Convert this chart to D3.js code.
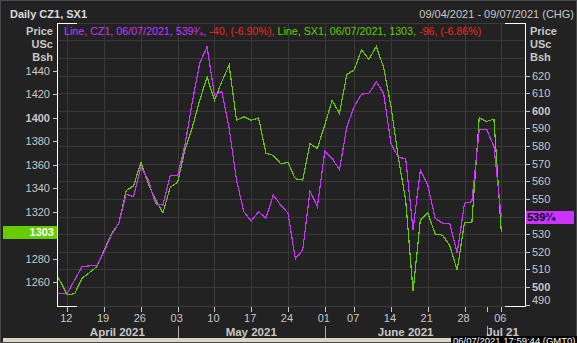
<!DOCTYPE html>
<html>
<head>
<meta charset="utf-8">
<script src="https://cdn.jsdelivr.net/npm/d3@7/dist/d3.min.js"></script>
<style>
body { margin: 0; background: #222; }
svg { display: block; font-family: "Liberation Sans", Arial, sans-serif; }
</style>
</head>
<body>
<script>
var bg_color = '#222222';
var grid_color = '#393939';
var text_color = '#c8c8c8';
var cz_color = '#cc33ff';
var sx_color = '#66cc00';
var red_color = '#ff2020';

var width = 577, height = 343;
var plot_left = 57, plot_right = 525, plot_top = 23, plot_bottom = 306;

// trading days shown (first one is clipped by the left axis)
var dates = ['2021-04-08','2021-04-09',
	'2021-04-12','2021-04-13','2021-04-14','2021-04-15','2021-04-16',
	'2021-04-19','2021-04-20','2021-04-21','2021-04-22','2021-04-23',
	'2021-04-26','2021-04-27','2021-04-28','2021-04-29','2021-04-30',
	'2021-05-03','2021-05-04','2021-05-05','2021-05-06','2021-05-07',
	'2021-05-10','2021-05-11','2021-05-12','2021-05-13','2021-05-14',
	'2021-05-17','2021-05-18','2021-05-19','2021-05-20','2021-05-21',
	'2021-05-24','2021-05-25','2021-05-26','2021-05-27','2021-05-28',
	'2021-06-01','2021-06-02','2021-06-03','2021-06-04',
	'2021-06-07','2021-06-08','2021-06-09','2021-06-10','2021-06-11',
	'2021-06-14','2021-06-15','2021-06-16','2021-06-17','2021-06-18',
	'2021-06-21','2021-06-22','2021-06-23','2021-06-24','2021-06-25',
	'2021-06-28','2021-06-29','2021-06-30','2021-07-01','2021-07-02',
	'2021-07-06'];

// CZ1 corn, USc/Bsh (right axis)
var cz1 = [496.5, 496.5,
	496.5, 504, 511.5, 512, 512.25,
	520, 529.5, 536.25, 552.75, 551.25,
	568.25, 560.75, 547.25, 546.5, 563.25,
	563.25, 580.75, 605.25, 627, 636.5,
	609, 611, 590, 560.75, 542.75,
	537.5, 542.75, 539, 552.25, 546.5,
	542, 516, 521, 554.5, 545.5,
	577, 573, 566.5, 591,
	602.5, 609.5, 610, 616.5, 610,
	581.5, 573.5, 573, 532.5, 566.5,
	558, 539, 536.25, 535.75, 519.5,
	547.5, 548.5, 589.25, 589.5, 579.75,
	539.75];

// SX1 soybeans, USc/Bsh (left axis)
var sx1 = [1271, 1261,
	1249, 1250, 1263, 1268, 1273,
	1287, 1301, 1310, 1338, 1342,
	1362, 1344, 1330, 1319, 1341,
	1345, 1373, 1392, 1415, 1435,
	1415, 1431, 1445, 1398, 1401,
	1398, 1400, 1370, 1368, 1361,
	1362, 1348, 1347, 1378, 1374,
	1394, 1415, 1404, 1437,
	1441, 1458, 1450, 1461, 1443,
	1410, 1366, 1330, 1252, 1313,
	1319, 1301, 1300, 1291, 1270,
	1311, 1311, 1400, 1397, 1399,
	1303];

var week_ticks = ['2021-04-12','2021-04-19','2021-04-26','2021-05-03','2021-05-10','2021-05-17','2021-05-24',
	'2021-06-01','2021-06-07','2021-06-14','2021-06-21','2021-06-28','2021-07-06'];
var week_labels = ['12','19','26','03','10','17','24','01','07','14','21','28','06'];
var months = ['April 2021', 'May 2021', 'June 2021', 'Jul 21'];
var month_starts = ['2021-05-03', '2021-06-01', '2021-07-01'];

var sx_ticks = [1260, 1280, 1300, 1320, 1340, 1360, 1380, 1400, 1420, 1440];
var cz_ticks = [490, 500, 510, 520, 530, 540, 550, 560, 570, 580, 590, 600, 610, 620];
var cz_grid = [500, 510, 520, 530, 540, 550, 560, 570, 580, 590, 600, 610, 620, 630, 640];

var last_cz = '539³⁄₄';
var last_sx = '1303';

var x = d3.scalePoint().domain(dates).range([52.6, 501.3]);
var y_sx = d3.scaleLinear().domain([1239.5, 1481]).range([plot_bottom, plot_top]);
var y_cz = d3.scaleLinear().domain([489.2, 649.9]).range([plot_bottom, plot_top]);

var svg = d3.select("body").append("svg")
	.attr("width", width)
	.attr("height", height);

function draw_frame() {
	svg.append("rect")
		.attr("x", 0).attr("y", 0)
		.attr("width", width).attr("height", height)
		.style("fill", bg_color);
	svg.append("rect")
		.attr("x", 0.5).attr("y", 0.5)
		.attr("width", width - 1).attr("height", height - 1)
		.style("fill", "none")
		.style("stroke", "#4a4a4a");

	svg.append("text")
		.attr("x", 10).attr("y", 18)
		.attr("font-size", "11px")
		.attr("font-weight", "bold")
		.attr("fill", "#dcdcdc")
		.text("Daily CZ1, SX1");
	svg.append("text")
		.attr("x", 574).attr("y", 18)
		.attr("text-anchor", "end")
		.attr("font-size", "11px")
		.attr("fill", text_color)
		.text("09/04/2021 - 09/07/2021 (CHG)");

	var units = ["Price", "USc", "Bsh"];
	svg.selectAll(".unit_left")
		.data(units)
		.enter()
		.append("text")
		.attr("class", "unit_left")
		.attr("x", 53)
		.attr("y", function(d, i) { return 35 + i * 13 })
		.attr("text-anchor", "end")
		.attr("font-size", "11px")
		.attr("font-weight", "bold")
		.attr("fill", text_color)
		.text(function(d) { return d });
	svg.selectAll(".unit_right")
		.data(units)
		.enter()
		.append("text")
		.attr("class", "unit_right")
		.attr("x", 530)
		.attr("y", function(d, i) { return 35 + i * 13 })
		.attr("font-size", "11px")
		.attr("font-weight", "bold")
		.attr("fill", text_color)
		.text(function(d) { return d });
}

function draw_grid() {
	svg.selectAll(".hgrid")
		.data(cz_grid)
		.enter()
		.append("line")
		.attr("class", "hgrid")
		.attr("x1", plot_left).attr("x2", plot_right)
		.attr("y1", function(d) { return Math.round(y_cz(d)) + 0.5 })
		.attr("y2", function(d) { return Math.round(y_cz(d)) + 0.5 })
		.style("stroke", grid_color);

	svg.selectAll(".vgrid")
		.data(week_ticks)
		.enter()
		.append("line")
		.attr("class", "vgrid")
		.attr("x1", function(d) { return Math.round(x(d)) + 0.5 })
		.attr("x2", function(d) { return Math.round(x(d)) + 0.5 })
		.attr("y1", plot_top).attr("y2", plot_bottom)
		.style("stroke", grid_color);

	// top / bottom border, gray with white corners
	[plot_top, plot_bottom].forEach(function(yy) {
		svg.append("line")
			.attr("x1", plot_left).attr("x2", plot_right)
			.attr("y1", yy + 0.5).attr("y2", yy + 0.5)
			.style("stroke", grid_color);
		svg.append("line")
			.attr("x1", plot_left).attr("x2", plot_left + 20)
			.attr("y1", yy + 0.5).attr("y2", yy + 0.5)
			.style("stroke", "#fff");
		svg.append("line")
			.attr("x1", plot_right - 20).attr("x2", plot_right)
			.attr("y1", yy + 0.5).attr("y2", yy + 0.5)
			.style("stroke", "#fff");
	});
	svg.append("line")
		.attr("x1", plot_left + 0.5).attr("x2", plot_left + 0.5)
		.attr("y1", plot_top).attr("y2", plot_bottom + 1)
		.style("stroke", "#fff");
	svg.append("line")
		.attr("x1", plot_right + 0.5).attr("x2", plot_right + 0.5)
		.attr("y1", plot_top).attr("y2", plot_bottom + 1)
		.style("stroke", "#fff");
}

function draw_axes() {
	var sx_last = sx1[sx1.length - 1];
	var cz_last = cz1[cz1.length - 1];

	// left axis (SX1)
	svg.selectAll(".sx_tick")
		.data(sx_ticks)
		.enter()
		.append("line")
		.attr("class", "sx_tick")
		.attr("x1", 53).attr("x2", plot_left)
		.attr("y1", function(d) { return Math.round(y_sx(d)) + 0.5 })
		.attr("y2", function(d) { return Math.round(y_sx(d)) + 0.5 })
		.style("stroke", text_color);
	// labels hidden under the last-value box are left out
	svg.selectAll(".sx_label")
		.data(sx_ticks.filter(function(d) { return Math.abs(y_sx(d) - y_sx(sx_last)) > 10 }))
		.enter()
		.append("text")
		.attr("class", "sx_label")
		.attr("x", 50)
		.attr("y", function(d) { return y_sx(d) + 4 })
		.attr("text-anchor", "end")
		.attr("font-size", "11px")
		.attr("font-weight", function(d) { return d % 100 == 0 ? "bold" : "normal" })
		.attr("fill", text_color)
		.text(function(d) { return d });

	// right axis (CZ1)
	svg.selectAll(".cz_tick")
		.data(cz_ticks)
		.enter()
		.append("line")
		.attr("class", "cz_tick")
		.attr("x1", plot_right).attr("x2", plot_right + 5)
		.attr("y1", function(d) { return Math.round(y_cz(d)) + 0.5 })
		.attr("y2", function(d) { return Math.round(y_cz(d)) + 0.5 })
		.style("stroke", text_color);
	svg.selectAll(".cz_label")
		.data(cz_ticks.filter(function(d) { return Math.abs(y_cz(d) - y_cz(cz_last)) > 10 }))
		.enter()
		.append("text")
		.attr("class", "cz_label")
		.attr("x", 532)
		.attr("y", function(d) { return y_cz(d) + 4 - (d == 490 ? 5 : 0) })
		.attr("font-size", "11px")
		.attr("font-weight", function(d) { return d % 100 == 0 ? "bold" : "normal" })
		.attr("fill", text_color)
		.text(function(d) { return d });

	// bottom axis
	svg.selectAll(".x_tick")
		.data(week_ticks.concat(['2021-07-01']))
		.enter()
		.append("line")
		.attr("class", "x_tick")
		.attr("x1", function(d) { return Math.round(x(d)) + 0.5 })
		.attr("x2", function(d) { return Math.round(x(d)) + 0.5 })
		.attr("y1", plot_bottom + 1).attr("y2", plot_bottom + 6)
		.style("stroke", text_color);
	svg.selectAll(".x_label")
		.data(week_ticks)
		.enter()
		.append("text")
		.attr("class", "x_label")
		.attr("x", function(d) { return x(d) - 1 })
		.attr("y", 322)
		.attr("text-anchor", "middle")
		.attr("font-size", "11px")
		.attr("fill", text_color)
		.text(function(d, i) { return week_labels[i] });

	var edges = [plot_left].concat(month_starts.map(function(d) { return x(d) })).concat([plot_right]);
	svg.selectAll(".month_sep")
		.data(month_starts)
		.enter()
		.append("line")
		.attr("class", "month_sep")
		.attr("x1", function(d) { return Math.round(x(d)) + 0.5 })
		.attr("x2", function(d) { return Math.round(x(d)) + 0.5 })
		.attr("y1", 326).attr("y2", 339)
		.style("stroke", "#aaa");
	svg.selectAll(".month_label")
		.data(months)
		.enter()
		.append("text")
		.attr("class", "month_label")
		.attr("x", function(d, i) { return i == 3 ? edges[i] + 16 : (edges[i] + edges[i + 1]) / 2 })
		.attr("y", 336)
		.attr("text-anchor", "middle")
		.attr("font-size", "11.5px")
		.attr("font-weight", "bold")
		.attr("fill", text_color)
		.text(function(d) { return d });
}

function draw_lines() {
	svg.append("clipPath")
		.attr("id", "plot_clip")
		.append("rect")
		.attr("x", plot_left + 1).attr("y", plot_top)
		.attr("width", plot_right - plot_left - 1)
		.attr("height", plot_bottom - plot_top);

	var sx_line = d3.line()
		.x(function(d, i) { return x(dates[i]) })
		.y(function(d) { return y_sx(d) });
	var cz_line = d3.line()
		.x(function(d, i) { return x(dates[i]) })
		.y(function(d) { return y_cz(d) });

	svg.append("path")
		.datum(sx1)
		.attr("clip-path", "url(#plot_clip)")
		.attr("d", sx_line)
		.style("fill", "none")
		.style("stroke", sx_color)
		.style("stroke-width", 1.2)
		.style("shape-rendering", "crispEdges");
	svg.append("path")
		.datum(cz1)
		.attr("clip-path", "url(#plot_clip)")
		.attr("d", cz_line)
		.style("fill", "none")
		.style("stroke", cz_color)
		.style("stroke-width", 1.2)
		.style("shape-rendering", "crispEdges");
}

function draw_labels() {
	var sx_y = y_sx(sx1[sx1.length - 1]);
	svg.append("rect")
		.attr("x", 3).attr("y", Math.round(sx_y) - 6)
		.attr("width", plot_left - 3).attr("height", 13)
		.style("fill", sx_color);
	svg.append("text")
		.attr("x", 54).attr("y", Math.round(sx_y) + 4)
		.attr("text-anchor", "end")
		.attr("font-size", "11px")
		.attr("font-weight", "bold")
		.attr("fill", "#fff")
		.text(last_sx);

	var cz_y = y_cz(cz1[cz1.length - 1]);
	svg.append("rect")
		.attr("x", plot_right + 1).attr("y", Math.round(cz_y) - 6)
		.attr("width", 48).attr("height", 13)
		.style("fill", cz_color);
	svg.append("text")
		.attr("x", 527).attr("y", Math.round(cz_y) + 4)
		.attr("font-size", "11px")
		.attr("font-weight", "bold")
		.attr("fill", "#000")
		.text(last_cz);

	// legend line inside the plot
	var legend = svg.append("text")
		.attr("x", 64).attr("y", 35)
		.attr("font-size", "10.7px");
	legend.append("tspan").attr("fill", cz_color).text("Line, CZ1, 06/07/2021, " + last_cz + ", ");
	legend.append("tspan").attr("fill", red_color).text("-40, (-6.90%), ");
	legend.append("tspan").attr("fill", sx_color).text("Line, SX1, 06/07/2021, " + last_sx + ", ");
	legend.append("tspan").attr("fill", red_color).text("-96, (-6.86%)");

	// status bar
	svg.append("rect")
		.attr("x", 3).attr("y", 338)
		.attr("width", 450).attr("height", 4)
		.style("fill", "#dad6ca");
	svg.append("rect")
		.attr("x", 451).attr("y", 336)
		.attr("width", 126).attr("height", 7)
		.style("fill", "#000");
	svg.append("text")
		.attr("x", 453).attr("y", 344)
		.attr("font-size", "9.5px")
		.attr("fill", "#fff")
		.text("06/07/2021 17:59:44 (GMT0)");
}

function init() {
	draw_frame();
	draw_grid();
	draw_axes();
	draw_lines();
	draw_labels();
}

init();
</script>
</body>
</html>
